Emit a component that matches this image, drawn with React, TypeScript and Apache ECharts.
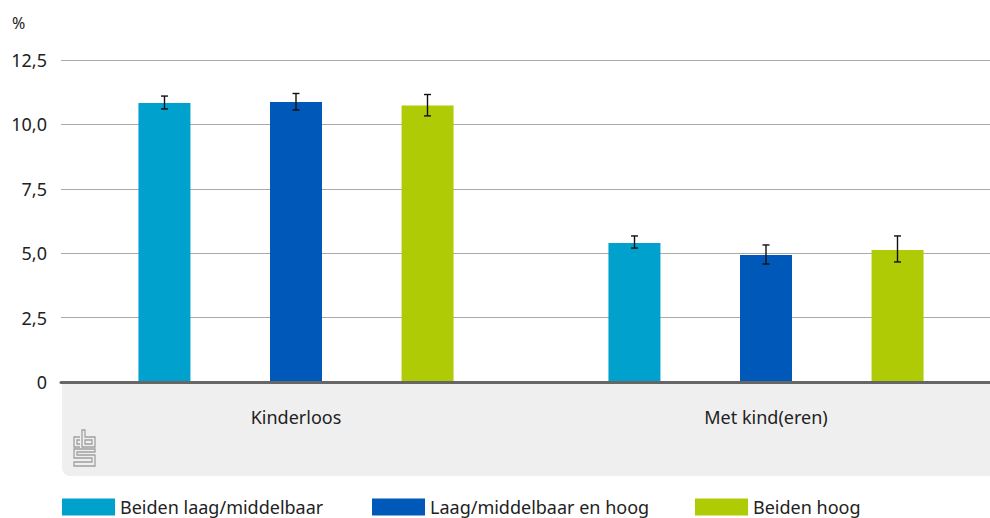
import React, { useEffect, useRef } from "react";
import * as echarts from "echarts";

const categories = ["Kinderloos", "Met kind(eren)"];
const seriesNames = ["Beiden laag/middelbaar", "Laag/middelbaar en hoog", "Beiden hoog"];
const colors = ["#00a1cd", "#0058b8", "#afcb05"];
const values = [
  [10.83, 5.4],
  [10.87, 4.93],
  [10.73, 5.12],
];
const lower = [
  [10.6, 5.2],
  [10.56, 4.58],
  [10.33, 4.66],
];
const upper = [
  [11.1, 5.67],
  [11.2, 5.32],
  [11.16, 5.67],
];

const logoPath =
  "M7,7 H1 V17 H7 M7,10 H4 V14 H7 " +
  "M9,0 V17 H22 V7 H12 V0 Z M12,10 H19 V14 H12 Z " +
  "M22,19 H1 V28 H19 V32 H1 V36 H22 V25 H4 V22 H22 Z";

echarts.graphic.registerShape("cbslogo", echarts.graphic.extendPath(logoPath, {}) as any);

export default function App() {
  const ref = useRef<HTMLDivElement>(null);
  useEffect(() => {
    if (!ref.current) return;
    document.body.style.margin = "0";
    const chart = echarts.init(ref.current, null, { renderer: "svg" });
    const barWidth = 52;
    const step = 131.5;
    const bars = seriesNames.map((name, i) => ({
      name,
      type: "bar",
      data: values[i],
      barWidth,
      barGap: "153%",
      itemStyle: { color: colors[i] },
      z: 2,
    }));
    const errors = seriesNames.map((name, i) => ({
      type: "custom",
      name: name + "_err",
      data: categories.map((c, j) => [j, lower[i][j], upper[i][j]]),
      z: 5,
      renderItem: (params: any, api: any) => {
        const x = api.value(0);
        const lo = api.coord([x, api.value(1)]);
        const hi = api.coord([x, api.value(2)]);
        const cx = lo[0] + (i - 1) * step;
        const cap = 3.5;
        const style = { stroke: "#111", lineWidth: 1.4 };
        return {
          type: "group",
          children: [
            { type: "line", shape: { x1: cx, y1: lo[1], x2: cx, y2: hi[1] }, style },
            { type: "line", shape: { x1: cx - cap, y1: lo[1], x2: cx + cap, y2: lo[1] }, style },
            { type: "line", shape: { x1: cx - cap, y1: hi[1], x2: cx + cap, y2: hi[1] }, style },
          ],
        };
      },
    }));
    const legendLefts = [62, 372, 695];
    chart.setOption({
      animation: false,
      textStyle: { fontFamily: "Noto Sans" },
      grid: { left: 61, width: 940, top: 60, bottom: 136, outerBoundsMode: "none" },
      legend: seriesNames.map((n, i) => ({
        data: [n],
        left: legendLefts[i],
        top: 498,
        padding: 0,
        itemWidth: 53,
        itemHeight: 17,
        itemGap: 10,
        icon: "rect",
        selectedMode: false,
        textStyle: { fontSize: 18, lineHeight: 18, color: "#222", fontFamily: "Noto Sans", padding: [0, 0, 0, 0] },
      })),
      graphic: [
        {
          type: "rect",
          shape: { x: 62, y: 383, width: 928, height: 93, r: [0, 0, 0, 8] },
          style: { fill: "#efefef" },
          z: -10,
        },
        {
          type: "text",
          x: 12,
          y: 15,
          style: { text: "%", fontSize: 16, fill: "#222", fontFamily: "Noto Sans" },
        },
        {
          type: "cbslogo",
          x: 73,
          y: 430,
          scaleX: 1,
          scaleY: 1,
          style: { fill: "none", stroke: "#a0a0a0", lineWidth: 1.3 },
        },
      ],
      xAxis: {
        type: "category",
        data: categories,
        axisLine: { lineStyle: { color: "#666", width: 3 } },
        axisTick: { show: false },
        axisLabel: { fontSize: 18, color: "#222", margin: 26 },
        z: 10,
      },
      yAxis: {
        type: "value",
        min: 0,
        max: 12.5,
        interval: 2.5,
        axisLine: { show: false },
        axisTick: { show: false },
        splitLine: { lineStyle: { color: "#aaa", width: 1.2 } },
        axisLabel: {
          fontSize: 18,
          color: "#222",
          margin: 14,
          formatter: (v: number) => (v === 0 ? "0" : v.toFixed(1).replace(".", ",")),
        },
      },
      series: [...bars, ...errors],
    });
    return () => chart.dispose();
  }, []);
  return <div ref={ref} style={{ width: 990, height: 518 }} />;
}
